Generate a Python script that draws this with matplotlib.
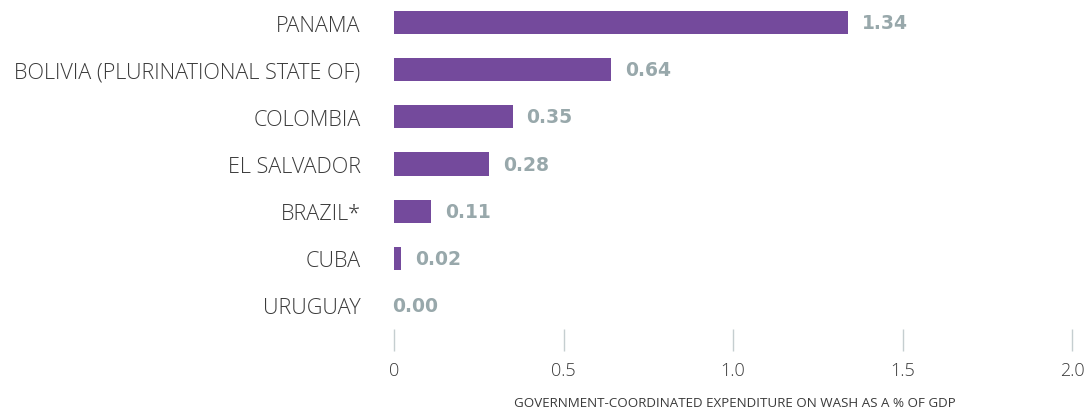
import matplotlib
matplotlib.use("Agg")
import matplotlib.pyplot as plt

countries = ["PANAMA", "BOLIVIA (PLURINATIONAL STATE OF)", "COLOMBIA", "EL SALVADOR",
             "BRAZIL*", "CUBA", "URUGUAY"]
values = [1.34, 0.64, 0.35, 0.28, 0.11, 0.02, 0.00]
value_labels = ["1.34", "0.64", "0.35", "0.28", "0.11", "0.02", "0.00"]
xticks = [0, 0.5, 1.0, 1.5, 2.0]
xtick_labels = ["0", "0.5", "1.0", "1.5", "2.0"]
xlabel = "GOVERNMENT-COORDINATED EXPENDITURE ON WASH AS A % OF GDP"

BAR = "#744a9c"
VAL = "#98a8ab"
TXT = "#3a3a3a"

fig = plt.figure(figsize=(10.87, 4.10), dpi=100)
ax = fig.add_axes([394 / 1087, 1 - 330 / 410, (1072 - 394) / 1087, 330 / 410])

y = list(range(len(countries)))
ax.barh(y, values, height=0.49, color=BAR)
ax.set_ylim(len(countries) - 0.5, -0.5)
ax.set_xlim(0, 2.0)

for yi, v, lab in zip(y, values, value_labels):
    ax.annotate(lab, (v, yi), xytext=(10 if v > 0 else -1, 0), textcoords="offset points",
                ha="left", va="center", color=VAL, fontsize=13.5,
                family="DejaVu Sans", fontweight="bold")

ax.set_yticks(y)
ax.set_yticklabels(countries, family="Open Sans", fontsize=15.6, color=TXT, fontweight="light")
ax.tick_params(axis="y", length=0, pad=24)

ax.set_xticks(xticks)
ax.set_xticklabels(xtick_labels, family="Open Sans", fontsize=13, color=TXT, fontweight="light")
ax.tick_params(axis="x", direction="out", length=16, width=1, color="#c5ced0", pad=7)

for s in ax.spines.values():
    s.set_visible(False)

fig.text(735 / 1087, 1 - 404 / 410, xlabel, ha="center", va="center",
         family="Open Sans", fontsize=9.6, color=TXT)

fig.savefig("out.png", dpi=100, facecolor="white")
